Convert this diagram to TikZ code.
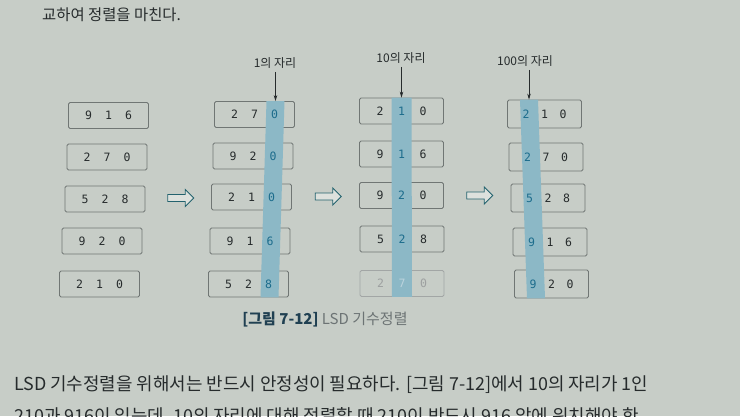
\documentclass[tikz,border=0pt]{standalone}
\usepackage{fontspec}
\setmainfont{Noto Sans CJK KR}
\newfontfamily\digitfont{DejaVu Sans Mono}
\usetikzlibrary{arrows.meta,positioning,shapes.arrows,calc}

\definecolor{paper}{RGB}{199,205,199}
\definecolor{boxline}{RGB}{112,118,116}
\definecolor{band}{RGB}{140,184,198}
\definecolor{hldigit}{RGB}{28,108,140}
\definecolor{inkdark}{RGB}{38,43,44}
\definecolor{arrowteal}{RGB}{35,98,110}
\definecolor{capgray}{RGB}{108,115,116}
\definecolor{capbold}{RGB}{32,64,82}

\newlength{\dgw}
\setlength{\dgw}{20pt}
\newcommand{\dg}[1]{\makebox[\dgw]{#1}}
\newcommand{\hl}[1]{\makebox[\dgw]{\textcolor{hldigit}{#1}}}

\begin{document}
\begin{tikzpicture}[x=1pt,y=-1pt,
    numbox/.style={draw=boxline,line width=.8pt,rounded corners=1.5pt,
      minimum width=80pt,minimum height=26pt,inner sep=0pt},
    digits/.style={inner sep=0pt,text=inkdark,
      font=\digitfont\fontsize{11.5}{13}\selectfont},
    hollow/.style={single arrow,draw=arrowteal,fill=paper!60!white,line width=.9pt,
      minimum height=26pt,minimum width=17pt,single arrow head extend=4pt,inner sep=2.3pt},
    placelabel/.style={font=\fontsize{12}{14}\selectfont,text=inkdark},
    downarrow/.style={-{Stealth[length=6pt,width=3.5pt]},line width=.7pt,draw=inkdark},
    bodytext/.style={anchor=base west,text=inkdark,inner sep=0pt}]
  \fill[paper] (0,0) rectangle (740,416);
  \useasboundingbox (0,0) rectangle (740,416);

  \node[bodytext,font=\fontsize{15.4}{18}\selectfont] (topline) at (42,20) {교하여 정렬을 마친다.};

  % unsorted input
  \node[numbox] (a1) at (108.5,115.5) {};
  \node[numbox] (a2) at (107,157) {};
  \node[numbox] (a3) at (105,199) {};
  \node[numbox] (a4) at (102,241) {};
  \node[numbox] (a5) at (99.5,284) {};
  \node[digits] (a1t) at (a1) {\dg9\dg1\dg6};
  \node[digits] (a2t) at (a2) {\dg2\dg7\dg0};
  \node[digits] (a3t) at (a3) {\dg5\dg2\dg8};
  \node[digits] (a4t) at (a4) {\dg9\dg2\dg0};
  \node[digits] (a5t) at (a5) {\dg2\dg1\dg0};

  % pass 1
  \node[numbox] (b1) at (254.5,114.5) {};
  \node[numbox] (b2) at (253,156) {};
  \node[numbox] (b3) at (251.5,197) {};
  \node[numbox] (b4) at (250,241) {};
  \node[numbox] (b5) at (248.5,284) {};
  \coordinate (t1) at ($(b1.north)+(21,0)$);
  \fill[band] ($(b1.north)+(12,0)$) -- ($(b1.north)+(30,0)$)
    -- ($(b5.south)+(30,0)$) -- ($(b5.south)+(12,0)$) -- cycle;
  \node[digits] (b1t) at (b1) {\dg2\dg7\hl0};
  \node[digits] (b2t) at (b2) {\dg9\dg2\hl0};
  \node[digits] (b3t) at (b3) {\dg2\dg1\hl0};
  \node[digits] (b4t) at (b4) {\dg9\dg1\hl6};
  \node[digits] (b5t) at (b5) {\dg5\dg2\hl8};

  % pass 2
  \begin{scope}[numbox/.append style={minimum width=84pt},
      digits/.append style={execute at begin node={\setlength{\dgw}{21.5pt}}}]
    \node[numbox] (c1) at (401.5,111) {};
    \node[numbox] (c2) at (401.5,154) {};
    \node[numbox] (c3) at (401.5,195.5) {};
    \node[numbox] (c4) at (402,239) {};
    \node[numbox,draw=boxline!65] (c5) at (402,283.5) {};
    \coordinate (t2) at (c1.north);
    \fill[band] ($(c1.north)+(-10,0)$) -- ($(c1.north)+(10,0)$)
      -- ($(c5.south)+(10,0)$) -- ($(c5.south)+(-10,0)$) -- cycle;
    \node[digits] (c1t) at (c1) {\dg2\hl1\dg0};
    \node[digits] (c2t) at (c2) {\dg9\hl1\dg6};
    \node[digits] (c3t) at (c3) {\dg9\hl2\dg0};
    \node[digits] (c4t) at (c4) {\dg5\hl2\dg8};
    \node[digits,text=inkdark!45] (c5t) at (c5)
      {\dg2\makebox[\dgw]{\textcolor{hldigit!30}{7}}\dg0};
  \end{scope}

  % pass 3
  \begin{scope}[numbox/.append style={minimum width=74pt,minimum height=28pt},
      digits/.append style={execute at begin node={\setlength{\dgw}{18.5pt}}}]
    \node[numbox] (d1) at (544.5,114) {};
    \node[numbox] (d2) at (546,157) {};
    \node[numbox] (d3) at (548,198) {};
    \node[numbox] (d4) at (550,242) {};
    \node[numbox] (d5) at (551.5,284) {};
    \coordinate (t3) at ($(d1.north)+(-15.5,0)$);
    \fill[band] ($(d1.north)+(-24.5,0)$) -- ($(d1.north)+(-6.5,0)$)
      -- ($(d5.south)+(-6.5,0)$) -- ($(d5.south)+(-24.5,0)$) -- cycle;
    \node[digits] (d1t) at (d1) {\hl2\dg1\dg0};
    \node[digits] (d2t) at (d2) {\hl2\dg7\dg0};
    \node[digits] (d3t) at (d3) {\hl5\dg2\dg8};
    \node[digits] (d4t) at (d4) {\hl9\dg1\dg6};
    \node[digits] (d5t) at (d5) {\hl9\dg2\dg0};
  \end{scope}

  \node[hollow] (s1) at (179,198) {};
  \node[hollow] (s2) at (326.5,196.5) {};
  \node[hollow] (s3) at (478,195.5) {};

  \node[placelabel] (l1) at (275,63) {1의 자리};
  \node[placelabel] (l2) at (401,58) {10의 자리};
  \node[placelabel] (l3) at (525,61) {100의 자리};
  \foreach \lab/\tip in {l1/t1,l2/t2,l3/t3}
    \draw[downarrow] (\lab.south -| \tip) -- (\tip);

  \node[font=\fontsize{15}{18}\selectfont,text=capgray] (caption) at (325,319)
    {\textcolor{capbold}{\textbf{[그림 7-12]}} LSD 기수정렬};

  \node[bodytext,font=\fontsize{17.9}{21}\selectfont] (body1) at (14,390)
    {LSD 기수정렬을 위해서는 반드시 안정성이 필요하다. [그림 7-12]에서 10의 자리가 1인};
  \node[bodytext,font=\fontsize{17.9}{21}\selectfont] (body2) at (14,422)
    {210과 916이 있는데, 10의 자리에 대해 정렬할 때 210이 반드시 916 앞에 위치해야 한};
\end{tikzpicture}
\end{document}
